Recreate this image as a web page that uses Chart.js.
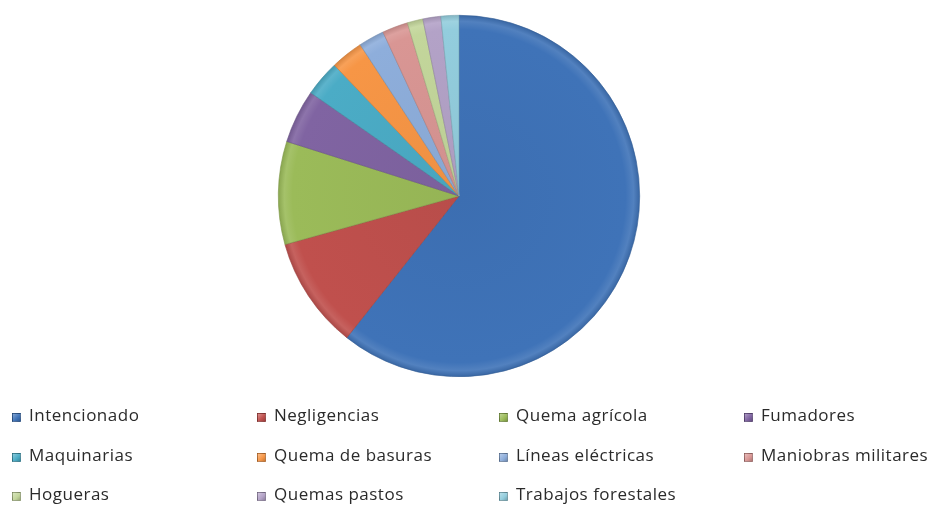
<!DOCTYPE html>
<html>
<head>
<meta charset="utf-8">
<script src="https://cdn.jsdelivr.net/npm/chart.js@4"></script>
<style>
  body { margin: 0; background: #fff; }
  #wrap { position: relative; width: 935px; height: 506px; }
  #chart { position: absolute; left: 0; top: 0; }
  #legend { position: absolute; left: 0; top: 0; width: 935px; height: 506px; pointer-events: none;
            font-family: "Open Sans", sans-serif; font-size: 17px; letter-spacing: 0.5px; color: #2a2a2a; }
  .item { position: absolute; white-space: nowrap; line-height: 20px; }
  .box { display: inline-block; width: 9px; height: 9px; margin-right: 8px; vertical-align: -1px;
         border: 1px solid rgba(0,0,0,0.25); box-sizing: border-box; }
</style>
</head>
<body>
<div id="wrap">
  <canvas id="chart" width="935" height="506"></canvas>
  <div id="legend"></div>
</div>
<script>
// causas de incendios (% aprox.)
const labels = ["Intencionado", "Negligencias", "Quema agrícola", "Fumadores",
  "Maquinarias", "Quema de basuras", "Líneas eléctricas", "Maniobras militares",
  "Hogueras", "Quemas pastos", "Trabajos forestales"];
const values = [60.6, 10.0, 9.2, 4.8, 3.2, 2.9, 2.3, 2.3, 1.4, 1.6, 1.6];
const colors = ["#3f73b8", "#c0504d", "#9bbb59", "#8064a2", "#4bacc6", "#f79646",
  "#8eaedb", "#d99694", "#c3d69b", "#b3a2c7", "#93cddd"];

// legend grid (4 columns)
const legendCols = [12, 257, 499, 744];
const legendRows = [405, 445, 484];

function shade(hex, f) {
  let n = parseInt(hex.slice(1), 16);
  let r = n >> 16, g = (n >> 8) & 255, b = n & 255;
  if (f < 0) { r *= 1 + f; g *= 1 + f; b *= 1 + f; }
  else { r += (255 - r) * f; g += (255 - g) * f; b += (255 - b) * f; }
  return `rgb(${Math.round(r)},${Math.round(g)},${Math.round(b)})`;
}

// soft bevel near the outer edge
function bevelFill(ctx) {
  const base = colors[ctx.dataIndex];
  const area = ctx.chart.chartArea;
  if (!area) return base;
  const cx = (area.left + area.right) / 2, cy = (area.top + area.bottom) / 2;
  const r = Math.min(area.right - area.left, area.bottom - area.top) / 2;
  const g = ctx.chart.ctx.createRadialGradient(cx, cy, 0, cx, cy, r);
  g.addColorStop(0, shade(base, -0.04));
  g.addColorStop(0.92, base);
  g.addColorStop(0.965, shade(base, 0.1));
  g.addColorStop(1, shade(base, -0.12));
  return g;
}

const chart = new Chart(document.getElementById("chart"), {
  type: "pie",
  data: {
    labels: labels,
    datasets: [{
      data: values,
      backgroundColor: bevelFill,
      borderColor: colors.map(c => shade(c, -0.2)),
      borderWidth: 0.6
    }]
  },
  options: {
    responsive: false,
    animation: false,
    layout: { padding: { top: 15, bottom: 129, left: 0, right: 17 } },
    plugins: { legend: { display: false }, tooltip: { enabled: false } }
  }
});
chart.update();

// html legend in 4 columns, one entry per slice
const legendEl = document.getElementById("legend");
labels.forEach((name, i) => {
  const d = document.createElement("div");
  d.className = "item";
  d.style.left = legendCols[i % 4] + "px";
  d.style.top = legendRows[Math.floor(i / 4)] + "px";
  const b = document.createElement("span");
  b.className = "box";
  b.style.background = `linear-gradient(135deg, ${shade(colors[i], 0.35)}, ${colors[i]} 60%, ${shade(colors[i], -0.2)})`;
  d.appendChild(b);
  d.appendChild(document.createTextNode(name));
  legendEl.appendChild(d);
});
</script>
</body>
</html>
